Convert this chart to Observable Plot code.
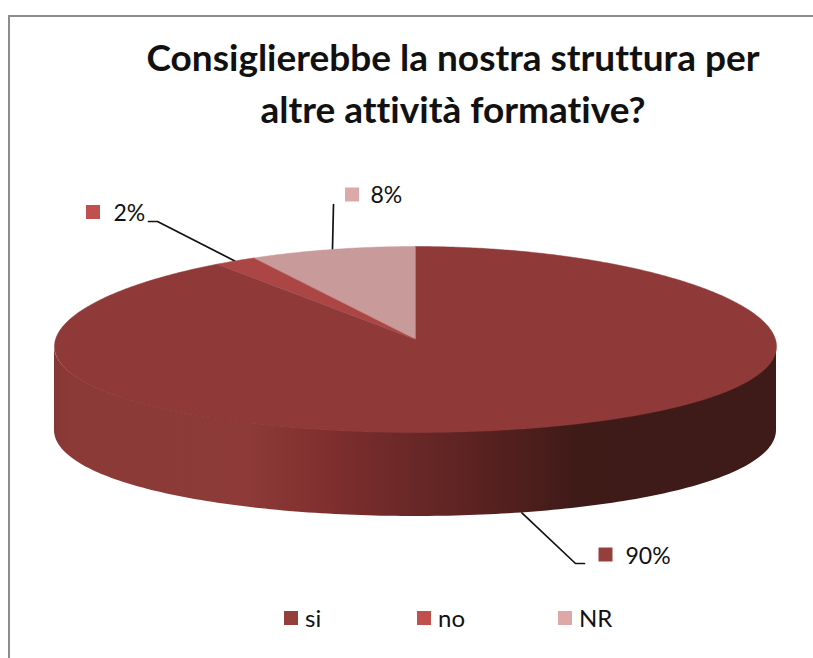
<!DOCTYPE html>
<html lang="it">
<head>
<meta charset="utf-8">
<script src="https://cdn.jsdelivr.net/npm/d3@7"></script>
<script src="https://cdn.jsdelivr.net/npm/@observablehq/plot@0.6"></script>
<style>
  html, body { margin: 0; padding: 0; background: #fff; overflow: hidden; }
  body { width: 813px; height: 658px; position: relative; font-family: Lato, "Open Sans", sans-serif; color: #111; font-variant-ligatures: none; }
  #frame { position: absolute; left: 8px; top: 15px; right: 0; bottom: 0; border-left: 2.5px solid #8c8c8c; border-top: 2.5px solid #8c8c8c; }
  #title { position: absolute; left: 0; top: 31px; width: 906px; text-align: center; font-weight: 700; font-size: 37px; line-height: 52px; white-space: nowrap; }
  #chart { position: absolute; left: 0; top: 140px; }
  #chart svg { display: block; background: transparent; }
  #legend { position: absolute; left: 284px; top: 603px; display: flex; font-size: 24px; line-height: 30px; }
  #legend span.item { display: flex; align-items: center; gap: 7px; }
  #legend span.item:nth-child(1) { width: 133px; }
  #legend span.item:nth-child(2) { width: 141px; }
  #legend i { display: block; width: 14px; height: 14px; }
</style>
</head>
<body>
<div id="frame"></div>
<div id="title">Consiglierebbe la nostra struttura per<br>altre attività formative?</div>
<div id="chart"></div>
<div id="legend"></div>
<script>
// Data
const categories = ["NR", "no", "si"];   // in drawing order, counter-clockwise from 12 o'clock
const shares = [8, 2, 90];
const labels = ["8%", "2%", "90%"];
const legendOrder = ["si", "no", "NR"];

// Styling
const topColors = {si: "#8f3a38", no: "#ac4644", NR: "#c89a99"};
const keyColors = {si: "#953f3d", no: "#c0504d", NR: "#dca9a8"};
const wallStops = [[0, "#853735"], [0.02, "#8c3a38"], [0.27, "#8d3a38"], [0.38, "#7f2f2e"], [0.48, "#6c2928"], [0.62, "#54201f"], [0.72, "#3f1b18"], [1, "#3e1a18"]];

// 3D projection of the pie: unit ellipse, slight foreshortening towards the back
const perspective = 0.075, depth = 84 / 93;
const project = (deg, r = 1, drop = 0) => {
  const t = deg * Math.PI / 180;
  return {x: r * Math.sin(t) * (1 - perspective * Math.cos(t)), y: r * Math.cos(t) - drop};
};

// Slices run counter-clockwise from 12 o'clock
let acc = 0;
const slices = categories.map((name, i) => {
  const start = acc; acc += shares[i] * 3.6;
  return {name, start, end: acc, mid: (start + acc) / 2, label: labels[i]};
});
const slicePoints = s => [{x: 0, y: 0}, ...d3.range(s.start, s.end, 0.5).map(a => project(-a)), project(-s.end)];
const wall = d3.range(94, 266.5, 1).map(a => {
  const p = project(a), q = project(a, 1, depth);
  return {x: p.x, y1: p.y, y2: q.y};
});

// Scales turn unit pie coordinates into pixels
const sx = d3.scaleLinear().domain([-1, 1]).range([55, 775]);
const sy = d3.scaleLinear().domain([1, -1]).range([106, 292]);
const ux = sx.invert, uy = sy.invert;

// Label anchors (pixels inside the svg), leader lines start on the slice mid angle
const callouts = {
  NR: {key: [351.5, 54], text: [370, 55], elbow: [[333, 64]], nudge: 0},
  no: {key: [92.5, 71.5], text: [113, 73], elbow: [[157, 81], [148, 81]], nudge: 0},
  si: {key: [605, 414], text: [625, 416], elbow: [[575, 423], [584, 423]], nudge: 2}
};
const leaders = slices.flatMap(s => {
  const c = callouts[s.name];
  const a = s.name === "si" ? project(-s.mid + c.nudge, 1, depth) : project(-s.mid + c.nudge);
  return [a, ...c.elbow.map(([px, py]) => ({x: ux(px), y: uy(py)}))].map(p => ({...p, name: s.name}));
});

const plot = Plot.plot({
  width: 813, height: 450,
  margin: 0,
  x: {domain: sx.domain(), range: sx.range(), axis: null},
  y: {domain: sy.domain(), range: sy.range(), axis: null},
  marks: [
    () => {
      const svg = d3.create("svg:g");
      const g = svg.append("defs").append("linearGradient").attr("id", "side");
      wallStops.forEach(([o, c]) => g.append("stop").attr("offset", o).attr("stop-color", c));
      return svg.node();
    },
    Plot.line(leaders, {x: "x", y: "y", z: "name", stroke: "#111", strokeWidth: 1.7}),
    Plot.areaY(wall, {x: "x", y1: "y1", y2: "y2", fill: "url(#side)"}),
    ...slices.map(s => Plot.line(slicePoints(s), {x: "x", y: "y", fill: topColors[s.name], stroke: topColors[s.name], strokeWidth: 0.5})),
    Plot.dot(slices, {
      x: s => ux(callouts[s.name].key[0]), y: s => uy(callouts[s.name].key[1]),
      symbol: "square", r: 7.9, fill: s => keyColors[s.name]
    }),
    Plot.text(slices, {
      x: s => ux(callouts[s.name].text[0]), y: s => uy(callouts[s.name].text[1]),
      text: "label", textAnchor: "start", fontSize: 23, fontFamily: "Lato, sans-serif", fill: "#111"
    })
  ],
  color: {type: "identity"}
});
document.getElementById("chart").append(plot);

const legend = d3.select("#legend");
legendOrder.forEach(name => {
  const item = legend.append("span").attr("class", "item");
  item.append("i").style("background", keyColors[name]);
  item.append("span").text(name);
});
</script>
</body>
</html>
